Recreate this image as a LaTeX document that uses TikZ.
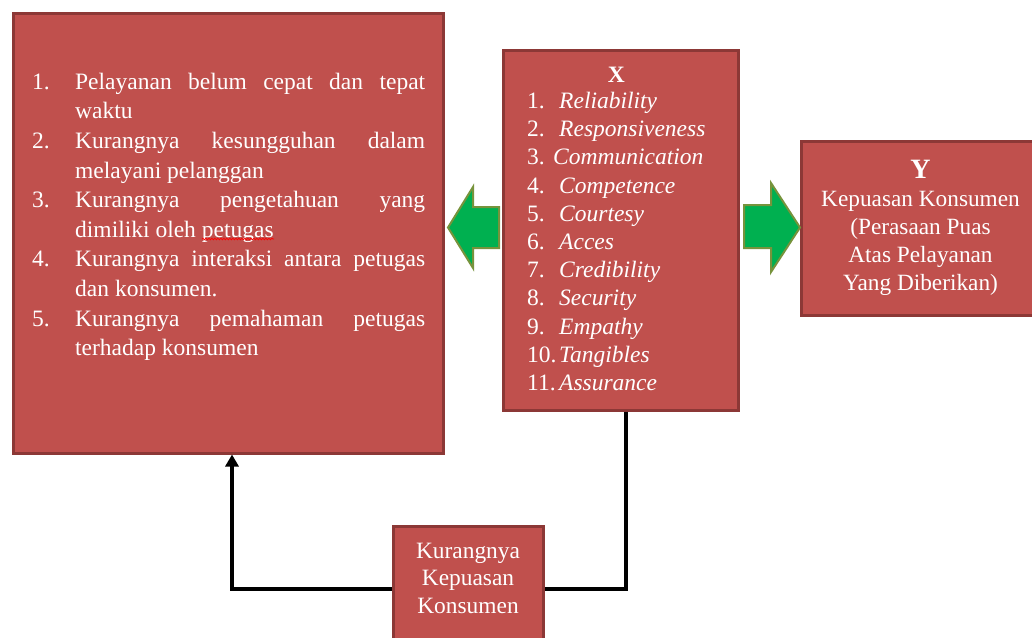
\documentclass[tikz,border=0pt]{standalone}
\usepackage{fontspec}
\setmainfont{Liberation Serif}
\usetikzlibrary{arrows.meta,decorations.pathmorphing}
\definecolor{boxred}{HTML}{C0504D}
\definecolor{boxedge}{HTML}{8C3836}
\definecolor{arrowgreen}{HTML}{00B050}
\definecolor{arrowedge}{HTML}{77933C}

\begin{document}
\begin{tikzpicture}[x=1pt,y=-1pt,
    box/.style={fill=boxred, draw=boxedge, line width=3pt, rectangle, inner sep=0pt},
    txt/.style={text=white, inner sep=0pt, font=\fontsize{23.5}{29.6}\selectfont},
    blockarrow/.style={fill=arrowgreen, draw=arrowedge, line width=2pt, line join=miter},
    conn/.style={draw=black, line width=4pt, line join=miter},
    >={Triangle[length=12pt,width=13pt]}]
\useasboundingbox (0,0) rectangle (1032,637);

            % Boxes
            \node[box, minimum width=430pt, minimum height=440pt] (masalah) at (228,233) {};
            \node[box, minimum width=235pt, minimum height=360pt] (xbox) at (620.5,230) {};
            \node[box, minimum width=239pt, minimum height=174pt, text=white, align=center,
                  font=\fontsize{23.3}{28}\selectfont] (kepuasan) at (920.5,228)
                  {{\fontsize{28}{28}\selectfont\bfseries Y}\\ Kepuasan Konsumen\\ (Perasaan Puas\\ Atas Pelayanan\\ Yang Diberikan)};
            \node[box, minimum width=150pt, minimum height=134pt] (kurang) at (468,593) {};

            % Problems
            \node[txt, anchor=north west] (masalahtxt) at (32,68.3) {%
              \begin{tabular}{@{}p{43pt}@{}l@{}}
              1. & \makebox[350pt][s]{Pelayanan belum cepat dan tepat}\\
                 & waktu\\
              2. & \makebox[350pt][s]{Kurangnya kesungguhan dalam}\\
                 & melayani pelanggan\\
              3. & \makebox[350pt][s]{Kurangnya pengetahuan yang}\\
                 & dimiliki oleh petugas\\
              4. & \makebox[350pt][s]{Kurangnya interaksi antara petugas}\\
                 & dan konsumen.\\
              5. & \makebox[350pt][s]{Kurangnya pemahaman petugas}\\
                 & terhadap konsumen
              \end{tabular}};
            \draw[red, line width=0.7pt, decorate, decoration={snake, amplitude=0.8pt, segment length=3pt}] (202,239) -- (274,239);

            % Variable X
            \node[txt, anchor=north west, font=\fontsize{23.5}{28.2}\selectfont] (xlist) at (527,62.3) {%
              \begin{tabular}{@{}p{32pt}@{}l@{}}
              \multicolumn{2}{@{}c@{}}{\textbf{X}}\\[-2pt]
              1.  & \textit{Reliability}\\
              2.  & \textit{Responsiveness}\\
              3.  & \hspace*{-6pt}\textit{Communication}\\
              4.  & \textit{Competence}\\
              5.  & \textit{Courtesy}\\
              6.  & \textit{Acces}\\
              7.  & \textit{Credibility}\\
              8.  & \textit{Security}\\
              9.  & \textit{Empathy}\\
              10. & \textit{Tangibles}\\
              11. & \textit{Assurance}
              \end{tabular}};

            % Result
            \node[txt, align=center, font=\fontsize{23.4}{27.5}\selectfont] (kurangtxt) at (468,578) {Kurangnya\\Kepuasan\\Konsumen};

            % Green arrows
            \draw[blockarrow] (499,207) -- (473,207) -- (473,187) -- (448,227.5) -- (473,268) -- (473,248) -- (499,248) -- cycle;
            \draw[blockarrow] (744,205) -- (771,205) -- (771,183) -- (800,227.5) -- (771,272) -- (771,248) -- (744,248) -- cycle;

            % Feedback
            \coordinate (turn1) at (626,589);
            \coordinate (turn2) at (232,589);
            \draw[conn] (xbox.south -| turn1) |- (kurang.east |- turn1);
            \draw[conn,->] (kurang.west |- turn2) -| (masalah.south -| turn2);

\end{tikzpicture}
\end{document}
